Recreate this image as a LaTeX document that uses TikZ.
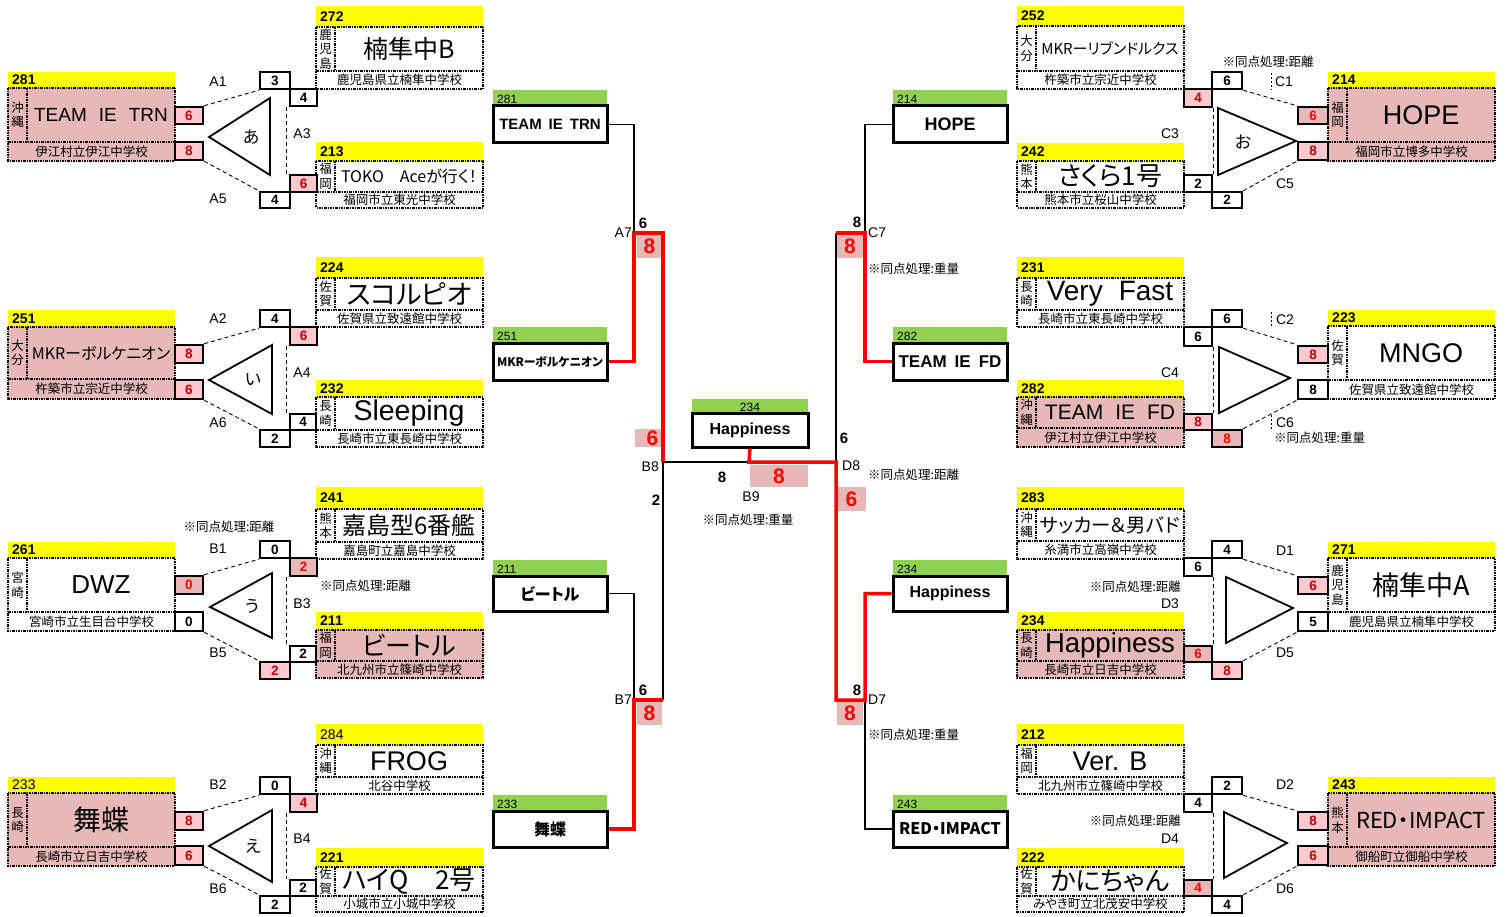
\documentclass[tikz,border=0pt]{standalone}
\usepackage{fontspec}
\usepackage{graphicx}
\setmainfont{Noto Sans CJK JP}[CharacterWidth=AlternateProportional]
\newfontfamily\lat{Liberation Sans}
\usetikzlibrary{calc}
\definecolor{hy}{HTML}{FFFF00}
\definecolor{hg}{HTML}{92D050}
\definecolor{tp}{HTML}{E6B8B7}
\definecolor{sp}{HTML}{FFC7CE}
\definecolor{dr}{HTML}{C00000}
\definecolor{br}{HTML}{FF0000}
\newsavebox\fitbox
\newcommand\fitw[2]{\sbox\fitbox{#2}\ifdim\wd\fitbox>#1\resizebox{#1}{!}{\usebox\fitbox}\else\usebox\fitbox\fi}
\tikzset{
  tbline/.style={line width=1.2pt, dash pattern=on 2.5pt off 1pt on 1pt off 1pt},
  sbox/.style={draw, line width=2.6pt, inner sep=0pt, font=\lat\bfseries\fontsize{13.5}{13.5}\selectfont},
  sw/.style={fill=white, text=black},
  sl/.style={fill=sp, text=dr},
  sd/.style={fill=tp, text=br},
  conn/.style={line width=0.9pt, dash pattern=on 4pt off 3pt},
  tick/.style={line width=0.9pt, dash pattern=on 2pt off 2pt},
  tri/.style={draw, line width=1.8pt, fill=white, line join=miter},
  lbl/.style={font=\lat\fontsize{14}{14}\selectfont, inner sep=0pt},
  note/.style={font=\fontsize{12.5}{12.5}\selectfont, inner sep=0pt},
  bk/.style={line width=1.5pt},
  rd/.style={line width=3.5pt, draw=br},
  cbox/.style={draw, line width=3pt, fill=white, inner sep=0pt},
  pk/.style={fill=tp, text=br, inner sep=0pt, font=\lat\bfseries\fontsize{21}{21}\selectfont},
  cs/.style={inner sep=0pt, font=\lat\bfseries\fontsize{15}{15}\selectfont},
  kana/.style={inner sep=0pt, font=\fontsize{17}{17}\selectfont}
}
% team box: id, x, y header, y main, y school, y end, fill, pref, number ; then size, name, school
\newcommand\TB[9]{\def\tbid{#1}\def\tbx{#2}\def\tbyh{#3}\def\tbym{#4}\def\tbys{#5}\def\tbye{#6}\def\tbfill{#7}\def\tbpref{#8}\def\tbnum{#9}\TBb}
\newcommand\TBb[3]{%
  \fill[hy] (\tbx,\tbyh) rectangle ({\tbx+167},\tbym);
  \node[anchor=west, inner sep=0pt, font=\lat\bfseries\fontsize{14}{14}\selectfont] (h\tbid) at ({\tbx+4},{(\tbyh+\tbym)/2}) {\tbnum};
  \fill[\tbfill] (\tbx,\tbym) rectangle ({\tbx+167},\tbye);
  \draw[tbline] (\tbx,\tbym) rectangle ({\tbx+167},\tbye);
  \draw[tbline] (\tbx,\tbys) -- ({\tbx+167},\tbys);
  \draw[tbline] ({\tbx+19},\tbym) -- ({\tbx+19},\tbys);
  \node[align=center, inner sep=0pt, font=\fontsize{12.5}{14.5}\selectfont] (p\tbid) at ({\tbx+9.5},{(\tbym+\tbys)/2}) {\tbpref};
  \node[inner sep=0pt, font=\fontsize{#1}{#1}\selectfont] (n\tbid) at ({\tbx+93},{(\tbym+\tbys)/2}) {\fitw{140pt}{#2}};
  \node[inner sep=0pt, font=\fontsize{12.5}{12.5}\selectfont] (s\tbid) at ({\tbx+83.5},{(\tbys+\tbye)/2}) {#3};
}
\newcommand\SB[7]{\node[sbox,#6,minimum width={(#4-#2)*1pt},minimum height={(#5-#3)*1pt}] (#1) at ({(#2+#4)/2},{(#3+#5)/2}) {#7};}
% centre box: id, x, y green, y box, y end, number, size, text
\newcommand\CB[8]{%
  \fill[hg] (#2,#3) rectangle ({#2+114},#4);
  \node[anchor=west, inner sep=0pt, font=\lat\fontsize{12}{12}\selectfont] (g#1) at ({#2+4},{(#3+#4)/2+1}) {#6};
  \node[cbox, minimum width=114pt, minimum height={(#5-#4)*1pt}, font=\bfseries\fontsize{#7}{#7}\selectfont] (#1) at ({#2+57},{(#4+#5)/2}) {\fitw{106pt}{#8}};
}
\begin{document}
\begin{tikzpicture}[x=1pt,y=-1pt]
\useasboundingbox (0,0) rectangle (1509,917);
\fill[white] (0,0) rectangle (1509,917);

% ---------- team boxes, left ----------
\TB{272}{316}{6}{27}{71}{89}{white}{鹿\\児\\島}{272}{25}{楠隼中B}{鹿児島県立楠隼中学校}
\TB{281}{8}{72}{88}{142}{161}{tp}{沖\\縄}{281}{19}{{\lat TEAM\hspace{12pt}IE\hspace{12pt}TRN}}{伊江村立伊江中学校}
\TB{213}{316}{142}{161}{192}{208}{white}{福\\岡}{213}{16}{TOKO　Aceが行く！}{福岡市立東光中学校}
\TB{224}{316}{257}{278}{310}{327}{white}{佐\\賀}{224}{27}{スコルピオ}{佐賀県立致遠館中学校}
\TB{251}{8}{310}{327}{379}{399}{tp}{大\\分}{251}{16}{MKRーボルケニオン}{杵築市立宗近中学校}
\TB{232}{316}{380}{397}{430}{447}{white}{長\\崎}{232}{28.5}{{\lat Sleeping}}{長崎市立東長崎中学校}
\TB{241}{316}{487}{509}{542}{559}{white}{熊\\本}{241}{24}{嘉島型6番艦}{嘉島町立嘉島中学校}
\TB{261}{8}{542}{558}{612}{631}{white}{宮\\崎}{261}{26}{{\lat DWZ}}{宮崎市立生目台中学校}
\TB{211}{316}{612}{630}{661}{678}{tp}{福\\岡}{211}{26}{ビートル}{北九州市立篠崎中学校}
\TB{284}{316}{724}{745}{777}{794}{white}{沖\\縄}{\mdseries 284}{27}{{\lat FROG}}{北谷中学校}
\TB{233}{8}{777}{793}{847}{866}{tp}{長\\崎}{\mdseries 233}{28}{舞蝶}{長崎市立日吉中学校}
\TB{221}{316}{848}{867}{896}{912}{white}{佐\\賀}{221}{26}{ハイQ　2号}{小城市立小城中学校}
% ---------- team boxes, right ----------
\TB{252}{1017}{6}{26}{71}{89}{white}{大\\分}{252}{15}{MKRーリブンドルクス}{杵築市立宗近中学校}
\TB{242}{1017}{143}{161}{192}{208}{white}{熊\\本}{242}{26}{さくら1号}{熊本市立桜山中学校}
\TB{231}{1017}{257}{278}{310}{327}{white}{長\\崎}{231}{28}{{\lat Very\hspace{16pt}Fast}}{長崎市立東長崎中学校}
\TB{282}{1017}{380}{397}{428}{447}{tp}{沖\\縄}{282}{21}{{\lat TEAM\hspace{12pt}IE\hspace{12pt}FD}}{伊江村立伊江中学校}
\TB{283}{1017}{487}{509}{541}{559}{white}{沖\\縄}{283}{21}{サッカー＆男バド}{糸満市立高嶺中学校}
\TB{234}{1017}{612}{630}{661}{678}{tp}{長\\崎}{234}{27.5}{{\lat Happiness}}{長崎市立日吉中学校}
\TB{212}{1017}{724}{745}{777}{794}{white}{福\\岡}{212}{27}{{\lat Ver.\hspace{10pt}B}}{北九州市立篠崎中学校}
\TB{222}{1017}{848}{867}{896}{912}{white}{佐\\賀}{222}{26}{かにちゃん}{みやき町立北茂安中学校}
\TB{214}{1328}{72}{88}{142}{161}{tp}{福\\岡}{214}{27}{{\lat HOPE}}{福岡市立博多中学校}
\TB{223}{1328}{310}{326}{380}{399}{white}{佐\\賀}{223}{27}{{\lat MNGO}}{佐賀県立致遠館中学校}
\TB{271}{1328}{542}{558}{612}{631}{white}{鹿\\児\\島}{271}{27}{楠隼中A}{鹿児島県立楠隼中学校}
\TB{243}{1328}{777}{793}{847}{866}{tp}{熊\\本}{243}{22}{RED・IMPACT}{御船町立御船中学校}

% ---------- score boxes ----------
\SB{aL1}{175}{107}{203}{124}{sl}{6}
\SB{aL2}{175}{142}{203}{160}{sl}{8}
\SB{aT1}{260}{72}{290}{89}{sw}{3}
\SB{aT2}{290}{89}{317}{106}{sw}{4}
\SB{aB1}{290}{175}{317}{192}{sl}{6}
\SB{aB2}{260}{192}{290}{208}{sw}{4}

\SB{iL1}{175}{345}{203}{363}{sl}{8}
\SB{iL2}{175}{380}{203}{399}{sl}{6}
\SB{iT1}{260}{310}{290}{327}{sw}{4}
\SB{iT2}{290}{327}{317}{345}{sl}{6}
\SB{iB1}{290}{414}{316}{430}{sw}{4}
\SB{iB2}{260}{430}{290}{447}{sw}{2}

\SB{uL1}{175}{576}{203}{594}{sd}{0}
\SB{uL2}{175}{612}{203}{631}{sw}{0}
\SB{uT1}{260}{541}{290}{558}{sw}{0}
\SB{uT2}{290}{558}{317}{576}{sd}{2}
\SB{uB1}{290}{646}{316}{662}{sw}{2}
\SB{uB2}{260}{662}{290}{679}{sl}{2}

\SB{eL1}{175}{812}{203}{830}{sl}{8}
\SB{eL2}{175}{846}{203}{865}{sl}{6}
\SB{eT1}{260}{777}{290}{794}{sw}{0}
\SB{eT2}{290}{794}{317}{812}{sl}{4}
\SB{eB1}{290}{880}{316}{896}{sw}{2}
\SB{eB2}{260}{896}{290}{913}{sw}{2}

\SB{oT1}{1212}{72}{1242}{89}{sw}{6}
\SB{oT2}{1184}{89}{1212}{107}{sl}{4}
\SB{oB1}{1184}{175}{1212}{192}{sw}{2}
\SB{oB2}{1212}{192}{1242}{208}{sw}{2}
\SB{oR1}{1298}{107}{1328}{124}{sd}{6}
\SB{oR2}{1298}{142}{1328}{160}{sl}{8}

\SB{kT1}{1212}{310}{1242}{327}{sw}{6}
\SB{kT2}{1184}{327}{1212}{346}{sw}{6}
\SB{kB1}{1184}{414}{1212}{430}{sl}{8}
\SB{kB2}{1212}{430}{1242}{447}{sd}{8}
\SB{kR1}{1298}{346}{1328}{363}{sl}{8}
\SB{kR2}{1298}{380}{1328}{399}{sw}{8}

\SB{dT1}{1212}{541}{1242}{558}{sw}{4}
\SB{dT2}{1184}{558}{1212}{576}{sw}{6}
\SB{dB1}{1184}{646}{1212}{662}{sd}{6}
\SB{dB2}{1212}{662}{1242}{679}{sl}{8}
\SB{dR1}{1298}{577}{1328}{594}{sl}{6}
\SB{dR2}{1298}{612}{1328}{631}{sw}{5}

\SB{fT1}{1212}{777}{1242}{794}{sw}{2}
\SB{fT2}{1184}{794}{1212}{812}{sw}{4}
\SB{fB1}{1184}{880}{1212}{896}{sd}{4}
\SB{fB2}{1212}{896}{1242}{913}{sw}{4}
\SB{fR1}{1298}{812}{1328}{830}{sl}{8}
\SB{fR2}{1298}{846}{1328}{865}{sl}{6}

% ---------- league connectors ----------
\foreach \g in {a,i,u,e}{
  \draw[conn] (\g L1.north east) -- (\g T1.south west);
  \draw[conn] (\g L2.south east) -- (\g B2.north west);
  \draw[conn] ($(\g T2.south west)+(-2,0)$) -- ($(\g B1.north west)+(-2,0)$);
}
\foreach \g in {o,k,d,f}{
  \draw[conn] (\g T1.south east) -- (\g R1.north west);
  \draw[conn] (\g B2.north east) -- (\g R2.south west);
  \draw[conn] (\g T2.south east) -- (\g B1.north east);
}
\draw[tick] (1271,73) -- (1271,90);
\draw[tick] (1271,312) -- (1271,328);
\draw[tick] (1271,415) -- (1271,431);

% triangles
\draw[tri] (209,137) -- (270,98) -- (270,175) -- cycle;
\node[kana] (ta) at (251,137) {あ};
\draw[tri] (209,380) -- (272,345) -- (272,414) -- cycle;
\node[kana] (ti) at (253,380) {い};
\draw[tri] (210,607) -- (272,573) -- (272,638) -- cycle;
\node[kana] (tu) at (252,606) {う};
\draw[tri] (209,846) -- (272,810) -- (272,882) -- cycle;
\node[kana] (te) at (253,846) {え};
\draw[tri] (1218,108) -- (1218,175) -- (1296,141) -- cycle;
\node[kana] (to) at (1243,142) {お};
\draw[tri] (1219,347) -- (1219,413) -- (1290,378) -- cycle;
\draw[tri] (1226,577) -- (1226,643) -- (1293,608) -- cycle;
\draw[tri] (1224,812) -- (1224,878) -- (1287,843) -- cycle;

% match labels
\node[lbl] (lA1) at (218,82) {A1};
\node[lbl] (lA3) at (302,134) {A3};
\node[lbl] (lA5) at (218,199) {A5};
\node[lbl] (lA2) at (218,319) {A2};
\node[lbl] (lA4) at (302,373) {A4};
\node[lbl] (lA6) at (218,423) {A6};
\node[lbl] (lB1) at (218,549) {B1};
\node[lbl] (lB3) at (302,604) {B3};
\node[lbl] (lB5) at (218,653) {B5};
\node[lbl] (lB2) at (218,785) {B2};
\node[lbl] (lB4) at (302,839) {B4};
\node[lbl] (lB6) at (218,889) {B6};
\node[lbl] (lC1) at (1284,82) {C1};
\node[lbl] (lC3) at (1170,134) {C3};
\node[lbl] (lC5) at (1285,184) {C5};
\node[lbl] (lC2) at (1285,320) {C2};
\node[lbl] (lC4) at (1170,373) {C4};
\node[lbl] (lC6) at (1285,423) {C6};
\node[lbl] (lD1) at (1285,551) {D1};
\node[lbl] (lD3) at (1170,604) {D3};
\node[lbl] (lD5) at (1285,653) {D5};
\node[lbl] (lD2) at (1285,785) {D2};
\node[lbl] (lD4) at (1170,839) {D4};
\node[lbl] (lD6) at (1285,889) {D6};

\node[note] (nB1) at (229,527) {※同点処理:距離};
\node[note, anchor=west] (nB3) at (320,586) {※同点処理:距離};
\node[note] (nC1) at (1268,62) {※同点処理:距離};
\node[note, anchor=east] (nD3) at (1181,587) {※同点処理:距離};
\node[note, anchor=east] (nD4) at (1181,821) {※同点処理:距離};
\node[note, anchor=west] (nC6) at (1274,438) {※同点処理:重量};

% ---------- tournament centre ----------
\node[pk, minimum width=25pt, minimum height=24pt] (pA7) at (649.5,246) {8};
\node[pk, minimum width=27pt, minimum height=18pt] (pB8) at (648.5,438) {\hspace{8pt}6};
\node[pk, minimum width=58pt, minimum height=22pt] (pB9) at (779,476) {8};
\node[pk, minimum width=26pt, minimum height=24pt] (pC7) at (850,246) {8};
\node[pk, minimum width=29pt, minimum height=24pt] (pD8) at (851.5,499) {6\hspace{6pt}};
\node[pk, minimum width=25pt, minimum height=24pt] (pB7) at (649.5,713) {8};
\node[pk, minimum width=26pt, minimum height=24pt] (pD7) at (850,713) {8};

\coordinate (A7) at (634,233);
\coordinate (A7r) at (663,233);
\coordinate (B8) at (663,462);
\coordinate (B7) at (634,700);
\coordinate (B7r) at (663,700);
\coordinate (B9) at (749,462);
\coordinate (D8) at (836,462);
\coordinate (C7) at (865,233);
\coordinate (C7l) at (836,233);
\coordinate (D7) at (865,700);
\coordinate (D7l) at (836,700);

\CB{c281}{493}{90}{106}{143}{281}{15}{{\lat\bfseries TEAM\hspace{7pt}IE\hspace{7pt}TRN}}
\CB{c251}{493}{327}{343}{380}{251}{12}{MKRーボルケニオン}
\CB{c211}{493}{560}{576}{611}{211}{16}{ビートル}
\CB{c233}{493}{795}{811}{847}{233}{16}{舞蝶}
\CB{c214}{893}{90}{106}{143}{214}{18}{{\lat\bfseries HOPE}}
\CB{c282}{893}{327}{343}{380}{282}{17}{{\lat\bfseries TEAM\hspace{8pt}IE\hspace{8pt}FD}}
\CB{c234}{893}{560}{576}{611}{234}{16}{{\lat\bfseries Happiness}}
\CB{c243}{893}{795}{811}{847}{243}{16}{RED・IMPACT}
\fill[hg] (692,399) rectangle (808,413);
\node[inner sep=0pt, font=\lat\fontsize{12}{12}\selectfont] (gcH) at (750,407) {234};
\node[cbox, minimum width=116pt, minimum height=34pt, font=\lat\bfseries\fontsize{16}{16}\selectfont] (cH) at (750,430) {Happiness};

\draw[bk] (c281.east) -| (A7);
\draw[bk] (c211.east) -| (B7);
\draw[bk] (B7r) -- (B8) -- (B9);
\draw[bk] (C7l) -- (D8);
\draw[bk] (c214.west) -| (C7);
\draw[bk] (c243.west) -| (D7);
\draw[rd] (c251.east) -| (A7) -- (A7r) -- (B8);
\draw[rd] (c233.east) -| (B7) -- (B7r);
\draw[rd] (cH.south) -- (B9) -- (D8) -- (D7l) -- (D7) |- (c234.west);
\draw[rd] (c282.west) -| (C7) -- (C7l);

\node[cs] (sA7) at (643,223) {6};
\node[cs] (sC7) at (857,222) {8};
\node[cs] (sB7) at (643,690) {6};
\node[cs] (sD7) at (857,690) {8};
\node[cs] (sB8) at (656,500) {2};
\node[cs] (sB9) at (722,477) {8};
\node[cs] (sD8) at (844,438) {6};

\node[lbl, anchor=east] (lA7) at (632,233) {A7};
\node[lbl, anchor=west] (lC7) at (868,233) {C7};
\node[lbl, anchor=east] (lB7) at (632,700) {B7};
\node[lbl, anchor=west] (lD7) at (868,700) {D7};
\node[lbl, anchor=east] (lB8) at (659,467) {B8};
\node[lbl, anchor=west] (lD8) at (842,466) {D8};
\node[lbl] (lB9) at (751,497) {B9};

\node[note, anchor=west] (nC7) at (868,269) {※同点処理:重量};
\node[note, anchor=west] (nD8) at (868,475) {※同点処理:距離};
\node[note] (nB9) at (748,520) {※同点処理:重量};
\node[note, anchor=west] (nD7) at (868,735) {※同点処理:重量};
\end{tikzpicture}
\end{document}
